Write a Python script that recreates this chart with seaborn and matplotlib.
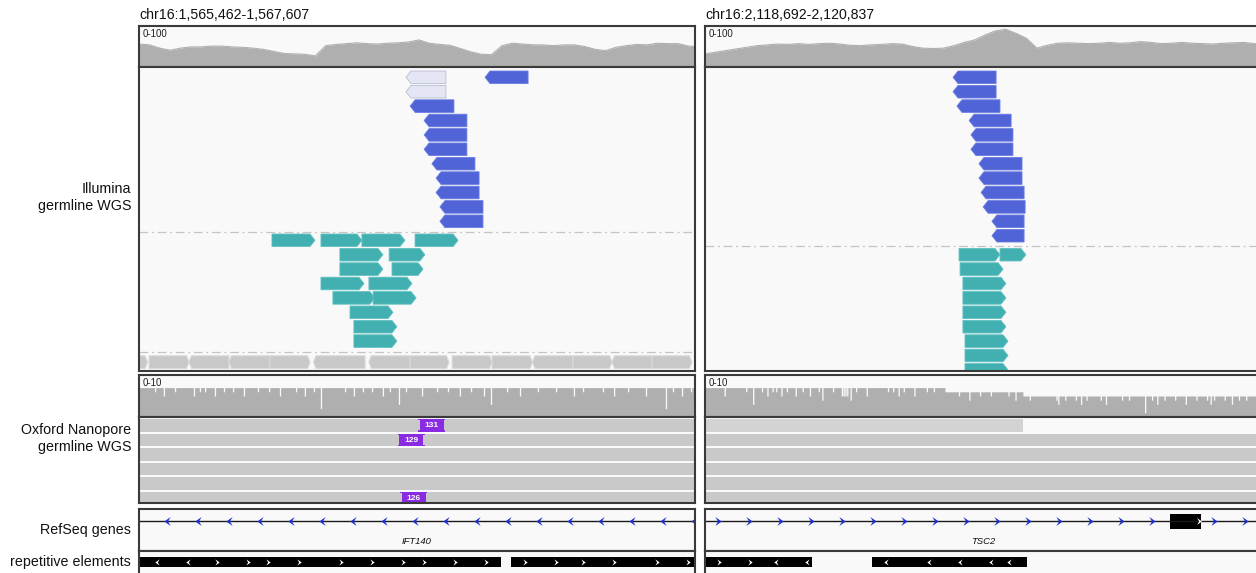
import numpy as np
import pandas as pd
import matplotlib
matplotlib.use("Agg")
import matplotlib.pyplot as plt
from matplotlib.patches import Polygon, Rectangle
import seaborn as sns

# ------------------------------------------------------------------ data
LEFT_LOCUS = ("chr16", 1565462, 1567607)
RIGHT_LOCUS = ("chr16", 2118692, 2120837)

# Illumina read depth, 40 bp bins from the window start (range 0-100)
COV_BIN_BP = 40
left_illumina_cov = [56, 54, 46, 41, 46, 49, 49, 51, 51, 49, 48, 46, 43, 38, 33, 32, 31, 27,
                     52, 55, 57, 59, 57, 56, 58, 59, 61, 66, 58, 55, 53, 45, 37, 31, 30,
                     52, 58, 56, 54, 54, 52, 54, 54, 50, 43, 40, 48, 52, 55, 54, 58, 57, 57, 51, 49]
right_illumina_cov = [32, 36, 40, 44, 48, 52, 54, 56, 55, 57, 55, 57, 58, 56, 53, 52, 54, 55, 57, 56,
                      50, 46, 45, 46, 52, 60, 66, 78, 88, 92, 82, 70, 46, 53, 58, 59, 58, 57, 58, 60,
                      58, 59, 62, 60, 57, 58, 60, 58, 57, 56, 58, 59, 60, 57, 55]

# Illumina alignments, one list per packed row: (start, end, mapq)
left_reverse_rows = [
    [(1566492, 1566646, 0), (1566797, 1566963, 60)],
    [(1566492, 1566646, 0)],
    [(1566508, 1566677, 60)],
    [(1566562, 1566727, 60)],
    [(1566562, 1566727, 60)],
    [(1566562, 1566727, 60)],
    [(1566592, 1566758, 60)],
    [(1566608, 1566774, 60)],
    [(1566608, 1566774, 60)],
    [(1566623, 1566789, 60)],
    [(1566623, 1566789, 60)],
]
left_forward_rows = [
    [(1565975, 1566141, 60), (1566164, 1566322, 60), (1566322, 1566488, 60), (1566527, 1566693, 60)],
    [(1566237, 1566403, 60), (1566427, 1566565, 60)],
    [(1566237, 1566403, 60), (1566438, 1566558, 60)],
    [(1566164, 1566330, 60), (1566349, 1566515, 60)],
    [(1566210, 1566372, 60), (1566365, 1566531, 60)],
    [(1566276, 1566442, 60)],
    [(1566291, 1566457, 60)],
    [(1566291, 1566457, 60)],
]
# unpaired alignments: (start, end, strand)
left_unpaired_rows = [
    [(1565400, 1565495, "+"), (1565501, 1565655, "+"), (1565655, 1565809, "-"),
     (1565809, 1565967, "-"), (1565967, 1566122, "+"), (1566135, 1566334, "-"),
     (1566349, 1566508, "-"), (1566508, 1566658, "+"), (1566670, 1566824, "+"),
     (1566824, 1566980, "+"), (1566980, 1567136, "-"), (1567136, 1567287, "+"),
     (1567287, 1567441, "-"), (1567441, 1567595, "+")],
]

right_reverse_rows = [
    [(2119649, 2119815, 60)],
    [(2119649, 2119815, 60)],
    [(2119664, 2119830, 60)],
    [(2119711, 2119873, 60)],
    [(2119718, 2119880, 60)],
    [(2119718, 2119880, 60)],
    [(2119749, 2119915, 60)],
    [(2119749, 2119915, 60)],
    [(2119757, 2119923, 60)],
    [(2119765, 2119927, 60)],
    [(2119799, 2119923, 60)],
    [(2119799, 2119923, 60)],
]
right_forward_rows = [
    [(2119672, 2119830, 60), (2119830, 2119930, 60)],
    [(2119676, 2119842, 60)],
    [(2119687, 2119853, 60)],
    [(2119687, 2119853, 60)],
    [(2119687, 2119853, 60)],
    [(2119687, 2119853, 60)],
    [(2119695, 2119861, 60)],
    [(2119695, 2119861, 60)],
    [(2119695, 2119861, 60)],
]

# Nanopore depth (range 0-10): baseline steps and single-base deletion dips
left_ont_levels = [(1565462, 7)]
left_ont_dip_pos = [1565524, 1565558, 1565601, 1565674, 1565697, 1565717, 1565755, 1565790,
                    1565825, 1565867, 1565921, 1565964, 1566006, 1566068, 1566102, 1566137,
                    1566164, 1566257, 1566291, 1566326, 1566361, 1566403, 1566430, 1566465,
                    1566492, 1566554, 1566612, 1566654, 1566700, 1566743, 1566793, 1566820,
                    1566882, 1566932, 1567001, 1567071, 1567140, 1567175, 1567252, 1567295,
                    1567349, 1567418, 1567495, 1567522, 1567557, 1567592]
left_ont_dip_depth = [1, 2, 1, 2, 1, 1, 2, 1,
                      1, 2, 1, 1, 2, 1, 2, 1,
                      5, 1, 2, 1, 1, 2, 1, 4,
                      1, 2, 1, 1, 2, 1, 2, 4,
                      1, 2, 1, 1, 2, 1, 1, 2,
                      1, 2, 5, 1, 2, 1]
right_ont_levels = [(2118692, 7), (2119618, 6), (2119919, 5)]
right_ont_dip_pos = [2118768, 2118851, 2118878, 2118912, 2118933, 2118953, 2118967, 2118987,
                     2119008, 2119042, 2119069, 2119097, 2119131, 2119145, 2119186, 2119220,
                     2119227, 2119234, 2119241, 2119254, 2119275, 2119316, 2119398, 2119418,
                     2119439, 2119459, 2119500, 2119548, 2119575, 2119672, 2119712, 2119753,
                     2119795, 2119863, 2119890, 2119945, 2120048, 2120055, 2120082, 2120123,
                     2120143, 2120164, 2120219, 2120239, 2120301, 2120328, 2120390, 2120417,
                     2120437, 2120465, 2120506, 2120547, 2120588, 2120629, 2120643, 2120656,
                     2120697, 2120725, 2120752, 2120780]
right_ont_dip_depth = [2, 1, 4, 1, 2, 1, 1, 2,
                       1, 2, 1, 2, 1, 3, 1, 2,
                       2, 2, 2, 3, 1, 2, 1, 1,
                       2, 1, 2, 1, 1, 1, 2, 1,
                       1, 1, 2, 1, 1, 2, 1, 1,
                       2, 1, 1, 2, 1, 1, 4, 1,
                       2, 1, 1, 2, 1, 1, 2, 1,
                       1, 2, 1, 1]

# Nanopore alignments: (row, start, end, mapq)
left_ont_reads = [(0, 1553120, 1581944, 60), (1, 1558407, 1572290, 60), (2, 1549876, 1590313, 60),
                  (3, 1561032, 1570178, 60), (4, 1556744, 1583561, 60), (5, 1552390, 1575018, 60)]
right_ont_reads = [(0, 2111384, 2119919, 8), (1, 2104550, 2131207, 60), (2, 2109872, 2126430, 60),
                   (3, 2113260, 2138905, 60), (4, 2107713, 2124366, 60), (5, 2102981, 2129574, 60)]
# insertions inside nanopore reads: (row, position, inserted bases)
left_ont_insertions = [(0, 1566592, 131), (1, 1566513, 129), (5, 1566521, 126)]
right_ont_insertions = []

# RefSeq genes
left_gene = dict(name="IFT140", strand="-", start=1560428, end=1662111, exons=[])
right_gene = dict(name="TSC2", strand="+", start=2097466, end=2138716,
                  exons=[(2120486, 2120606)])

# repeat elements: (start, end, strand)
left_repeats = [(1565358, 1565709, "-"), (1565709, 1565906, "+"), (1565906, 1566187, "+"),
                (1566187, 1566508, "+"), (1566508, 1566859, "+"), (1566897, 1567121, "+"),
                (1567121, 1567406, "+"), (1567406, 1567703, "+")]
right_repeats = [(2118572, 2118912, "+"), (2118912, 2119105, "-"), (2119336, 2119502, "-"),
                 (2119502, 2119811, "-"), (2119811, 2119934, "-")]

# ------------------------------------------------------------------ style
sns.set_theme(style="white")
plt.rcParams["font.family"] = ["Liberation Sans", "DejaVu Sans"]

W, H = 1256, 573
BG = "#f9f9f9"
FRAME = "#3a3a3a"
COV = "#afafaf"
REV = "#5064d8"
REV_EDGE = "#6b7de2"
FWD = "#42b0b0"
FWD_EDGE = "#63c2c2"
MQ0 = "#e4e6f6"
MQ0_EDGE = "#b9bdd0"
UNPAIRED = "#c8c8c8"
ONT = "#c9c9c9"
ONT_LOWMQ = "#d3d3d3"
INS = "#8a2be2"
GENE_ARROW = "#1c2fd6"

ROW_PITCH, READ_H, TOP_PAD = 14.4, 12.6, 4.0
ONT_PITCH, ONT_H, ONT_TOP = 14.5, 12.8, 2.0
TIP_PX = 5.0

fig = plt.figure(figsize=(W / 100, H / 100), dpi=100)
fig.patch.set_facecolor("white")


def track_axes(x0, y0, x1, y1, locus, ylim):
    ax = fig.add_axes([x0 / W, 1 - y1 / H, (x1 - x0) / W, (y1 - y0) / H])
    ax.set_facecolor(BG)
    ax.set_xlim(locus[1], locus[2])
    ax.set_ylim(*ylim)
    ax.set_xticks([])
    ax.set_yticks([])
    ax.set_xlabel("")
    ax.set_ylabel("")
    for s in ax.spines.values():
        s.set_visible(True)
        s.set_color(FRAME)
        s.set_linewidth(1.5)
        s.set_zorder(10)
    return ax


def bp_per_px(locus, x0, x1):
    return (locus[2] - locus[1]) / (x1 - x0)


def read_poly(start, end, strand, top, h, tip):
    yc, yb = top + h / 2, top + h
    if strand == "-":
        return [(start, yc), (start + tip, top), (end, top), (end, yb), (start + tip, yb)]
    return [(start, top), (end - tip, top), (end, yc), (end - tip, yb), (start, yb)]


def chevron(strand):
    pts = [(-0.35, 0.5), (0.35, 0.0), (-0.35, -0.5), (-0.05, 0.0)]
    if strand == "-":
        pts = [(-x, y) for x, y in pts]
    return pts


def illumina_coverage(x0, x1, locus, values):
    ax = track_axes(x0, 26, x1, 67, locus, (0, 100))
    df = pd.DataFrame({"pos": locus[1] + np.arange(len(values)) * COV_BIN_BP,
                       "depth": values})
    ax.fill_between(df["pos"], df["depth"], color=COV, lw=0)
    sns.lineplot(data=df, x="pos", y="depth", ax=ax, color=COV, lw=0.8)
    ax.set_xlim(locus[1], locus[2])
    ax.set_ylim(0, 100)
    ax.set_xlabel("")
    ax.set_ylabel("")
    ax.text(4 / (x1 - x0), 1 - 8 / 41, "0-100", transform=ax.transAxes,
            fontsize=7, ha="left", va="center", color="#222222")


def illumina_reads(x0, x1, locus, groups):
    ax = track_axes(x0, 67, x1, 371, locus, (304, 0))
    bpp = bp_per_px(locus, x0, x1)
    y = TOP_PAD
    for gi, (rows, kind) in enumerate(groups):
        if kind == "unpaired":
            y += 2.0
        for r, row in enumerate(rows):
            top = y + r * ROW_PITCH
            for read in row:
                tip = TIP_PX * bpp
                if kind == "unpaired":
                    s, e, strand = read
                    fc, ec, lw = UNPAIRED, "#d9d9d9", 0.8
                    tip = 2.5 * bpp
                else:
                    s, e, mq = read
                    strand = "-" if kind == "reverse" else "+"
                    lw = 0.6
                    if mq == 0:
                        fc, ec = MQ0, MQ0_EDGE
                    elif strand == "-":
                        fc, ec = REV, REV_EDGE
                    else:
                        fc, ec = FWD, FWD_EDGE
                ax.add_patch(Polygon(read_poly(s, e, strand, top, READ_H, tip),
                                     closed=True, facecolor=fc, edgecolor=ec, lw=lw))
        y_end = y + len(rows) * ROW_PITCH
        if gi < len(groups) - 1:
            dash = y_end + 2.6
            ax.axhline(dash, color="#c4c4c4", lw=0.9, ls=(0, (7, 3, 1.5, 3)))
            y = dash + 2.0


def ont_coverage(x0, x1, locus, levels, dip_pos, dip_depth):
    ax = track_axes(x0, 375, x1, 417, locus, (0, 10))
    pos = np.arange(locus[1], locus[2] + 1)
    depth = np.zeros(pos.size)
    for p, d in levels:
        depth[pos >= p] = d
    for p, d in zip(dip_pos, dip_depth):
        depth[(pos >= p - 2) & (pos <= p + 2)] -= d
    ax.fill_between(pos, depth, step="mid", color=COV, lw=0)
    ax.text(4 / (x1 - x0), 1 - 8 / 42, "0-10", transform=ax.transAxes,
            fontsize=7, ha="left", va="center", color="#222222")


def ont_reads(x0, x1, locus, reads, insertions):
    ax = track_axes(x0, 417, x1, 503, locus, (86, 0))
    bpp = bp_per_px(locus, x0, x1)
    for row, s, e, mq in reads:
        top = ONT_TOP + row * ONT_PITCH
        ax.add_patch(Rectangle((s, top), e - s, ONT_H, facecolor=ONT if mq >= 20 else ONT_LOWMQ,
                               lw=0))
    for row, p, size in insertions:
        top = ONT_TOP + row * ONT_PITCH
        w = 24 * bpp
        ax.add_patch(Rectangle((p - w / 2, top + 0.6), w, ONT_H - 1.2, facecolor=INS, lw=0))
        fw = 27 * bpp
        ax.add_patch(Rectangle((p - fw / 2, top), fw, 1.4, facecolor=INS, lw=0))
        ax.add_patch(Rectangle((p - fw / 2, top + ONT_H - 1.4), fw, 1.4, facecolor=INS, lw=0))
        ax.text(p, top + ONT_H / 2 + 0.3, str(size), color="white", fontsize=6,
                fontweight="bold", ha="center", va="center")


def gene_track(x0, x1, locus, gene, phase_bp):
    ax = track_axes(x0, 509, x1, 551, locus, (42, 0))
    bpp = bp_per_px(locus, x0, x1)
    line_y = 12
    ax.plot([gene["start"], gene["end"]], [line_y, line_y], color="#1a1a1a", lw=1.0)
    step = 31 * bpp
    marks = np.arange(locus[1] + phase_bp, locus[2], step)
    keep = [m for m in marks
            if all(not (es - 4 * bpp <= m <= ee + 4 * bpp) for es, ee in gene["exons"])]
    ax.plot(keep, [line_y] * len(keep), ls="none", marker=chevron(gene["strand"]),
            ms=6.5, mew=0, color=GENE_ARROW)
    for es, ee in gene["exons"]:
        ax.add_patch(Rectangle((es, line_y - 7.5), ee - es, 15, facecolor="black", lw=0))
        ax.plot([ee - 2 * bpp], [line_y], ls="none", marker=chevron(gene["strand"]),
                ms=5, mew=0, color="white")
    vis0, vis1 = max(gene["start"], locus[1]), min(gene["end"], locus[2])
    ax.text((vis0 + vis1) / 2, 33, gene["name"], fontsize=6.8, style="italic",
            ha="center", va="center", color="#111111")


def repeat_track(x0, x1, locus, repeats):
    ax = track_axes(x0, 551, x1, 590, locus, (39, 0))
    bpp = bp_per_px(locus, x0, x1)
    for s, e, strand in repeats:
        ax.add_patch(Rectangle((s, 6), e - s, 9.5, facecolor="black", lw=0))
        marks = np.arange(s + 14 * bpp, e - 3 * bpp, 31 * bpp)
        ax.plot(marks, [10.75] * len(marks), ls="none", marker=chevron(strand),
                ms=4.5, mew=0, color="white")


panels = [
    dict(locus=LEFT_LOCUS, x0=139, x1=695, cov=left_illumina_cov,
         groups=[(left_reverse_rows, "reverse"), (left_forward_rows, "forward"),
                 (left_unpaired_rows, "unpaired")],
         levels=left_ont_levels, dips=(left_ont_dip_pos, left_ont_dip_depth),
         ont=left_ont_reads, ins=left_ont_insertions, gene=left_gene, phase=108,
         repeats=left_repeats),
    dict(locus=RIGHT_LOCUS, x0=705, x1=1261, cov=right_illumina_cov,
         groups=[(right_reverse_rows, "reverse"), (right_forward_rows, "forward")],
         levels=right_ont_levels, dips=(right_ont_dip_pos, right_ont_dip_depth),
         ont=right_ont_reads, ins=right_ont_insertions, gene=right_gene, phase=49,
         repeats=right_repeats),
]

for p in panels:
    chrom, start, end = p["locus"]
    fig.text(p["x0"] / W, 1 - 15 / H, f"{chrom}:{start:,}-{end:,}", fontsize=10.2,
             ha="left", va="center", color="#111111")
    illumina_coverage(p["x0"], p["x1"], p["locus"], p["cov"])
    illumina_reads(p["x0"], p["x1"], p["locus"], p["groups"])
    ont_coverage(p["x0"], p["x1"], p["locus"], p["levels"], *p["dips"])
    ont_reads(p["x0"], p["x1"], p["locus"], p["ont"], p["ins"])
    gene_track(p["x0"], p["x1"], p["locus"], p["gene"], p["phase"])
    repeat_track(p["x0"], p["x1"], p["locus"], p["repeats"])

# track names
for text, y in [("Illumina", 189), ("germline WGS", 206), ("Oxford Nanopore", 430),
                ("germline WGS", 447), ("RefSeq genes", 530), ("repetitive elements", 562)]:
    fig.text(131 / W, 1 - y / H, text, fontsize=10.3, ha="right", va="center", color="#111111")

fig.savefig("out.png", dpi=100, facecolor="white")
